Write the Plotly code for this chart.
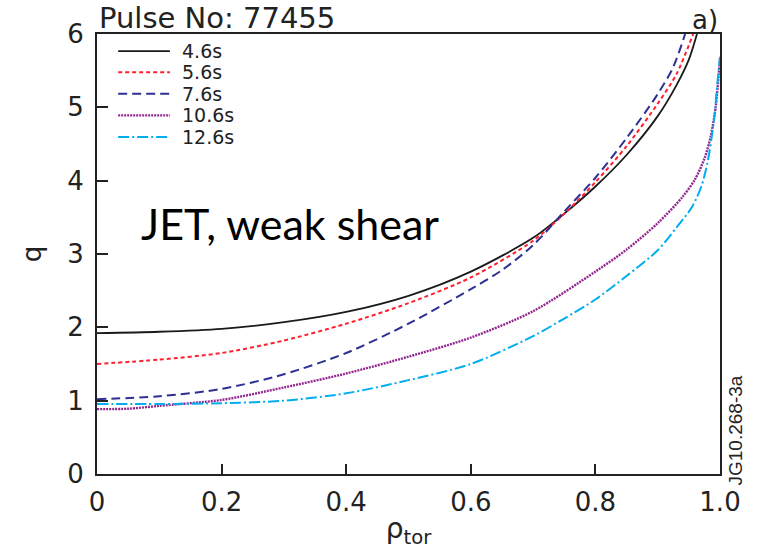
import plotly.graph_objects as go

# ---- data ----
labels = ["4.6s", "5.6s", "7.6s", "10.6s", "12.6s"]

x_46 = [0, 0.1, 0.2, 0.3, 0.4, 0.5, 0.6, 0.7, 0.75, 0.8, 0.85, 0.9, 0.93, 0.95, 0.963]
q_46 = [1.92, 1.94, 1.98, 2.07, 2.21, 2.43, 2.76, 3.22, 3.55, 3.92, 4.35, 4.88, 5.30, 5.65, 6.0]

x_56 = [0, 0.1, 0.2, 0.3, 0.4, 0.5, 0.6, 0.7, 0.75, 0.8, 0.85, 0.9, 0.93, 0.957]
q_56 = [1.50, 1.56, 1.65, 1.82, 2.05, 2.33, 2.68, 3.18, 3.55, 3.98, 4.47, 5.05, 5.45, 6.0]

x_76 = [0, 0.1, 0.2, 0.3, 0.4, 0.5, 0.6, 0.65, 0.7, 0.75, 0.8, 0.85, 0.9, 0.925, 0.944]
q_76 = [1.02, 1.06, 1.16, 1.36, 1.65, 2.05, 2.52, 2.78, 3.12, 3.58, 4.04, 4.58, 5.18, 5.55, 6.0]

x_106 = [0, 0.05, 0.1, 0.2, 0.3, 0.4, 0.5, 0.6, 0.7, 0.8, 0.85, 0.9, 0.94, 0.96, 0.975, 0.985, 0.993, 0.998, 1.0]
q_106 = [0.885, 0.89, 0.93, 1.01, 1.18, 1.37, 1.60, 1.86, 2.22, 2.76, 3.06, 3.42, 3.78, 4.02, 4.30, 4.60, 5.00, 5.45, 5.66]

x_126 = [0, 0.1, 0.2, 0.3, 0.4, 0.5, 0.6, 0.7, 0.75, 0.8, 0.85, 0.9, 0.93, 0.955, 0.97, 0.98, 0.99, 0.996, 1.0]
q_126 = [0.955, 0.955, 0.965, 1.00, 1.10, 1.28, 1.50, 1.88, 2.12, 2.38, 2.70, 3.05, 3.36, 3.64, 3.92, 4.25, 4.80, 5.35, 5.69]

xs = [x_46, x_56, x_76, x_106, x_126]
qs = [q_46, q_56, q_76, q_106, q_126]

x_ticks = [0, 0.2, 0.4, 0.6, 0.8, 1.0]
x_ticktext = ["0", "0.2", "0.4", "0.6", "0.8", "1.0"]
y_ticks = [0, 1, 2, 3, 4, 5, 6]

# ---- styles ----
colors = ["#1a1a1a", "#ff1f2d", "#2e3192", "#93278f", "#00aeef"]
dashes = ["solid", "4px,3px", "9px,5px", "2px,1px", "11px,3px,2px,3px"]
widths = [1.8, 2, 2, 2.4, 2]

fig = go.Figure()
for x, q, name, c, d, w in zip(xs, qs, labels, colors, dashes, widths):
    fig.add_trace(go.Scatter(
        x=x, y=q, name=name, mode="lines", showlegend=False,
        line=dict(color=c, dash=d, width=w, shape="spline", smoothing=0.8),
    ))

# ---- hand-placed legend (layout only) ----
leg_y = [0.961, 0.913, 0.864, 0.815, 0.766]
leg_x0, leg_x1, leg_tx = 0.034, 0.117, 0.135
shapes = []
annotations = []
for name, c, d, w, yy in zip(labels, colors, dashes, widths, leg_y):
    shapes.append(dict(type="line", xref="paper", yref="paper",
                       x0=leg_x0, x1=leg_x1, y0=yy, y1=yy,
                       line=dict(color=c, dash=d, width=w)))
    annotations.append(dict(text=name, xref="paper", yref="paper", x=leg_tx, y=yy,
                            xanchor="left", yanchor="middle", showarrow=False,
                            borderpad=0,
                            font=dict(family="DejaVu Sans", size=19, color="#222")))

tickfont = dict(family="DejaVu Sans", size=26, color="#222")

annotations += [
    dict(text="Pulse No: 77455", xref="paper", yref="paper", x=0, y=1,
         xanchor="left", yanchor="bottom", showarrow=False, yshift=-3,
         font=dict(family="DejaVu Sans", size=29, color="#222")),
    dict(text="a)", xref="paper", yref="paper", x=1, y=1,
         xanchor="right", yanchor="bottom", showarrow=False, yshift=-3,
         font=dict(family="DejaVu Sans", size=26, color="#222")),
    dict(text="JET, weak shear", xref="paper", yref="paper", x=0.31, y=0.57,
         xanchor="center", yanchor="middle", showarrow=False,
         font=dict(family="Lato", size=43, color="black")),
    dict(text="JG10.268-3a", xref="paper", yref="paper", x=1, y=0,
         xanchor="left", yanchor="bottom", showarrow=False, textangle=-90,
         xshift=2, yshift=-14, font=dict(family="Liberation Sans", size=19, color="#222")),
]

fig.update_layout(
    width=757, height=551,
    margin=dict(l=97, r=37, t=34, b=56),
    paper_bgcolor="white", plot_bgcolor="white",
    showlegend=False,
    shapes=shapes,
    annotations=annotations,
    xaxis=dict(
        range=[0, 1.0], tickvals=x_ticks, ticktext=x_ticktext,
        ticks="inside", ticklen=10, tickwidth=2, tickcolor="#222",
        showline=True, linecolor="#222", linewidth=2, mirror=True,
        showgrid=False, zeroline=False, tickfont=tickfont,
        ticklabelstandoff=4,
        title=dict(text="ρ<sub>tor</sub>", font=dict(family="DejaVu Sans", size=28, color="#222"), standoff=2),
    ),
    yaxis=dict(
        range=[0, 6], tickvals=y_ticks,
        ticks="inside", ticklen=11, tickwidth=2, tickcolor="#222",
        showline=True, linecolor="#222", linewidth=2, mirror=True,
        showgrid=False, zeroline=False, tickfont=tickfont,
        ticklabelstandoff=6,
        title=dict(text="q", font=dict(family="DejaVu Sans", size=26, color="#222"), standoff=18),
    ),
)

fig.write_html("out.html")
